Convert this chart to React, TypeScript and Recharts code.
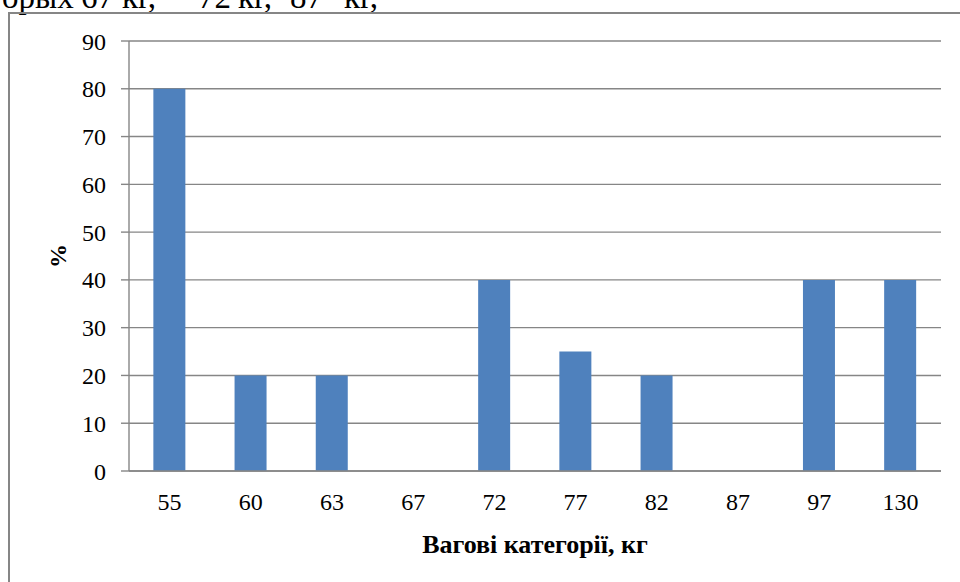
import { BarChart, Bar, XAxis, YAxis, CartesianGrid, Label } from 'recharts';

// вагові категорії та відсоток
const categories = ['55', '60', '63', '67', '72', '77', '82', '87', '97', '130'];
const percents = [80, 20, 20, 0, 40, 25, 20, 0, 40, 40];
const yTicks = [0, 10, 20, 30, 40, 50, 60, 70, 80, 90];

// обрізаний рядок тексту над діаграмою
const topWords = ['орых', '67', 'кг,', '72', 'кг,', '87', 'кг,'];
const topWordX = [2, 81, 122, 198, 238, 290, 344];

const data = categories.map((c, i) => ({ cat: c, value: percents[i] }));

const serif = '"Liberation Serif", "Times New Roman", serif';
const grey = '#868686';

export default function App() {
  return (
    <div style={{ position: 'absolute', left: 0, top: 0, width: 960, height: 582, overflow: 'hidden', background: '#fff' }}>
      <svg width={960} height={20} style={{ position: 'absolute', left: 0, top: 0 }}>
        <text y={8} fontFamily={serif} fontSize={33} fill="#000">
          {topWords.map((w, i) => (
            <tspan key={i} x={topWordX[i]}>{w}</tspan>
          ))}
        </text>
      </svg>
      {/* рамка діаграми */}
      <div style={{ position: 'absolute', left: 8, top: 12, width: 1000, height: 700, border: `2px solid ${grey}`, boxSizing: 'border-box' }} />
      <div style={{ position: 'absolute', left: 0, top: 0 }}>
        <BarChart width={960} height={582} data={data} margin={{ top: 41, right: 19, left: 0, bottom: 0 }} barCategoryGap="30%">
          <CartesianGrid vertical={false} stroke={grey} strokeWidth={1.4} />
          <XAxis
            dataKey="cat"
            height={111}
            tickLine={false}
            tickSize={0}
            tickMargin={22}
            axisLine={{ stroke: grey, strokeWidth: 1.4 }}
            tick={{ fill: '#000', fontFamily: serif, fontSize: 24 }}
          >
            <Label
              value="Вагові категорії, кг"
              position="insideBottom"
              offset={29}
              style={{ fontFamily: serif, fontSize: 26, fontWeight: 'bold', fill: '#000' }}
            />
          </XAxis>
          <YAxis
            width={129}
            domain={[0, 90]}
            ticks={yTicks}
            interval={0}
            tickSize={8}
            tickMargin={15}
            tickLine={{ stroke: grey, strokeWidth: 1.4 }}
            axisLine={{ stroke: grey, strokeWidth: 1.4 }}
            tick={{ fill: '#000', fontFamily: serif, fontSize: 24 }}
          >
            <Label
              content={({ viewBox }: any) => (
                <text
                  x={viewBox.x + 58}
                  y={viewBox.y + viewBox.height / 2}
                  transform={`rotate(-90 ${viewBox.x + 58} ${viewBox.y + viewBox.height / 2})`}
                  textAnchor="middle"
                  dominantBaseline="central"
                  fontFamily={serif}
                  fontSize={24}
                  fontWeight="bold"
                  fill="#000"
                >
                  %
                </text>
              )}
            />
          </YAxis>
          <Bar dataKey="value" fill="#4F81BD" isAnimationActive={false} />
        </BarChart>
      </div>
    </div>
  );
}
